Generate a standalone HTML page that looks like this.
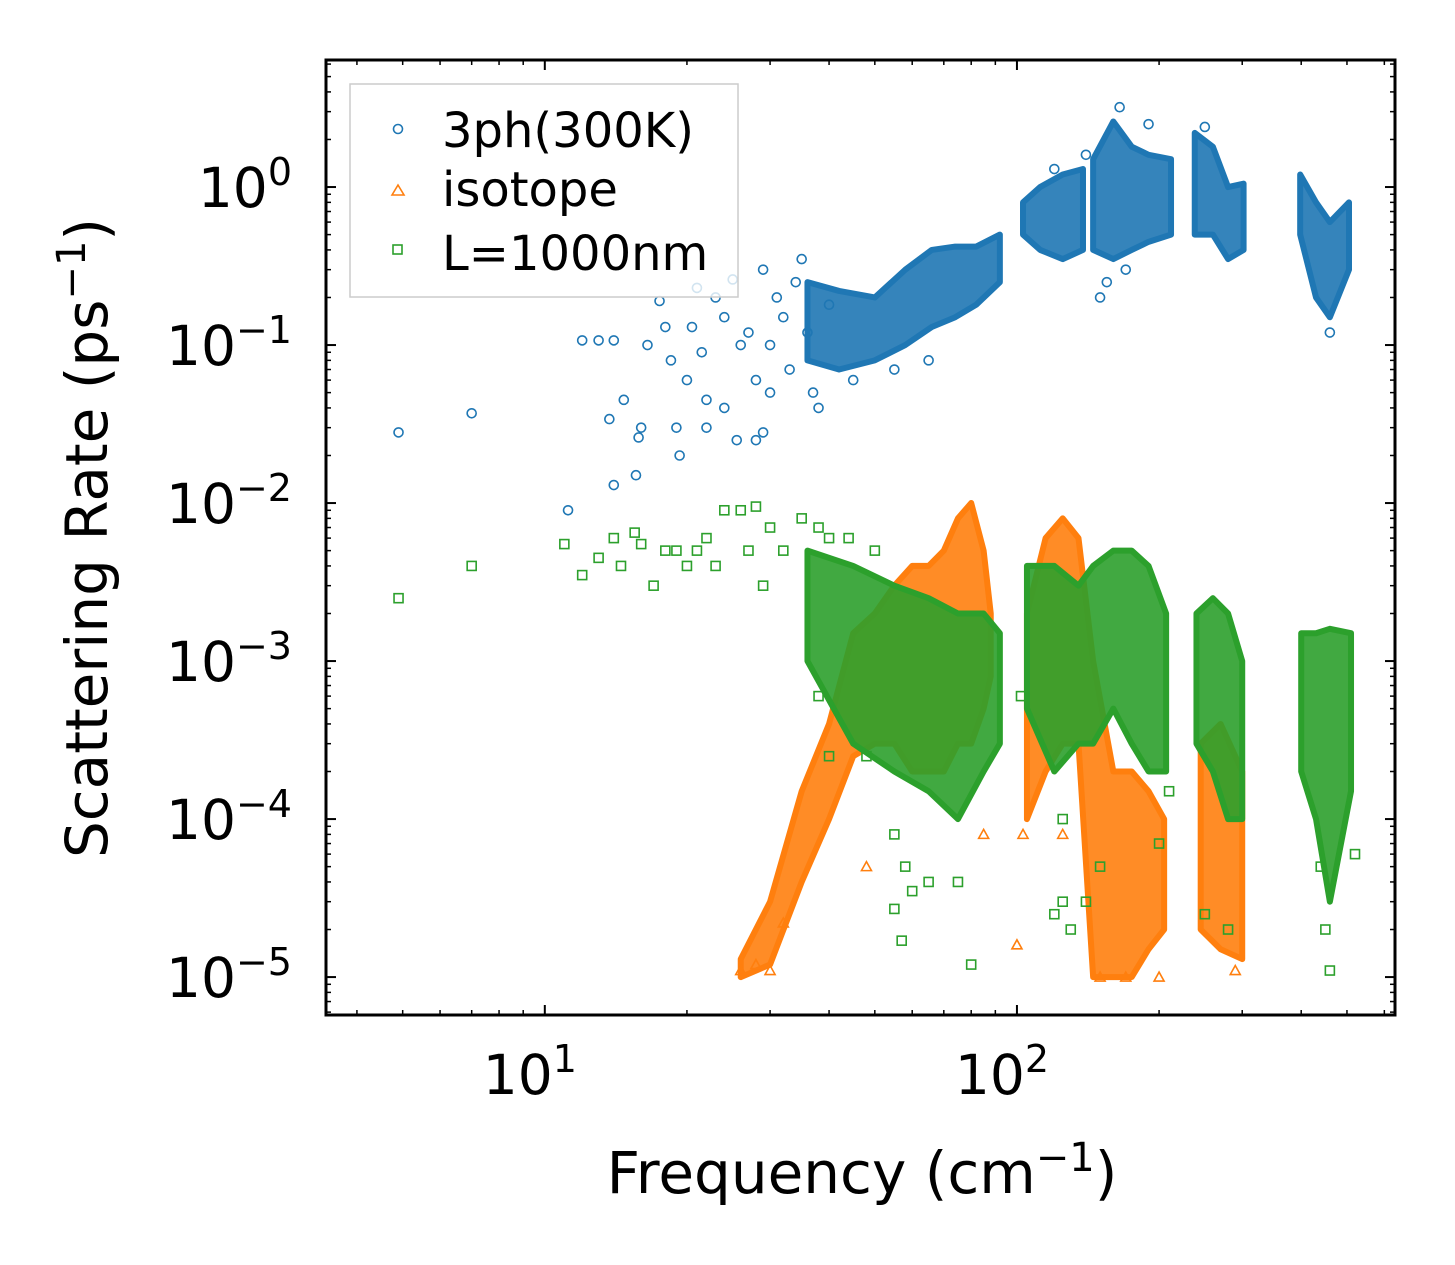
<!DOCTYPE html>
<html><head><meta charset="utf-8"><style>
html,body{margin:0;padding:0;background:#fff;}
svg{display:block;font-family:"DejaVu Sans","Liberation Sans",sans-serif;}
</style></head><body>
<svg id="chart" width="1455" height="1265" viewBox="0 0 1455 1265" xmlns="http://www.w3.org/2000/svg">
<rect width="1455" height="1265" fill="#fff"/>
<g id="marks"></g>
<g id="axes"></g>
<text x="862" y="1193" font-size="58" text-anchor="middle">Frequency (cm<tspan dy="-22" font-size="40">−1</tspan><tspan dy="22">)</tspan></text>
<text transform="translate(107,538) rotate(-90)" font-size="58" text-anchor="middle">Scattering Rate (ps<tspan dy="-22" font-size="40">−1</tspan><tspan dy="22">)</tspan></text>
<g>
<rect x="350" y="84" width="388" height="213" fill="#fff" fill-opacity="0.8" stroke="#ccc" stroke-width="1.5"/>
<g><circle cx="398" cy="129" r="4.5" fill="none" stroke="#1f77b4" stroke-width="1.6"/><text x="442" y="147" font-size="48">3ph(300K)</text></g>
<g><path d="M392,195 L398,185 L404,195 Z" fill="none" stroke="#ff7f0e" stroke-width="1.6"/><text x="442" y="206" font-size="48">isotope</text></g>
<g><rect x="393" y="245" width="9" height="9" fill="none" stroke="#2ca02c" stroke-width="1.6"/><text x="442" y="270" font-size="48">L=1000nm</text></g>
</g>
</svg>
<script>
// ---- data ----
const blueBands = [
 [[36,0.08,0.25],[42,0.07,0.22],[50,0.08,0.2],[58,0.1,0.3],[66,0.13,0.4],[74,0.15,0.42],[82,0.18,0.42],[92,0.25,0.5]],
 [[103,0.5,0.8],[112,0.4,1.0],[125,0.35,1.2],[138,0.4,1.3]],
 [[145,0.4,1.5],[160,0.35,2.6],[175,0.4,1.8],[190,0.45,1.6],[212,0.5,1.5]],
 [[238,0.5,2.2],[260,0.5,1.8],[280,0.35,1.0],[302,0.4,1.05]],
 [[398,0.5,1.2],[430,0.2,0.8],[460,0.15,0.6],[505,0.3,0.8]]
];
const bluePoints = [[4.9,0.028],[7,0.037],[11.2,0.009],[12,0.107],[13,0.107],[14,0.107],[13.7,0.034],[14,0.013],[14.7,0.045],[15.6,0.015],[15.8,0.026],[16,0.03],[16.5,0.1],[17.5,0.19],[18,0.13],[18.5,0.08],[19,0.03],[19.3,0.02],[20,0.06],[20.5,0.13],[21,0.23],[21.5,0.09],[22,0.045],[22,0.03],[23,0.2],[24,0.15],[24,0.04],[25,0.26],[25.5,0.025],[26,0.1],[27,0.12],[28,0.025],[28,0.06],[29,0.3],[29,0.028],[30,0.1],[30,0.05],[31,0.2],[32,0.15],[33,0.07],[34,0.25],[35,0.35],[36,0.12],[37,0.05],[38,0.04],[40,0.18],[45,0.06],[55,0.07],[65,0.08],[150,0.2],[155,0.25],[170,0.3],[460,0.12],[165,3.2],[190,2.5],[250,2.4],[140,1.6],[120,1.3]];
const orangeBands = [
 [[26,1e-5,1.3e-5],[30,1.2e-5,3e-5],[35,4e-5,1.5e-4],[40,1e-4,4e-4],[45,2.5e-4,1.5e-3],[50,3e-4,2e-3],[55,3e-4,3e-3],[60,2e-4,4e-3],[65,2e-4,4e-3],[70,2e-4,5e-3],[75,3e-4,8e-3],[80,3e-4,1e-2],[85,5e-4,5e-3],[88,8e-4,2e-3]],
 [[105,1e-4,2e-3],[115,2e-4,6e-3],[125,3e-4,8e-3],[135,3e-4,6e-3],[145,1e-5,1e-3],[160,1e-5,2e-4],[175,1e-5,2e-4],[190,1.5e-5,1.5e-4],[205,2e-5,1e-4]],
 [[245,2e-5,3e-4],[270,1.5e-5,4e-4],[300,1.3e-5,2e-4]]
];
const orangePoints = [[26,1.1e-5],[28,1.2e-5],[30,1.1e-5],[32,2.2e-5],[100,1.6e-5],[103,8e-5],[125,8e-5],[150,1e-5],[170,1e-5],[200,1e-5],[290,1.1e-5],[85,8e-5],[48,5e-5]];
const greenBands = [
 [[36,1e-3,5e-3],[45,3e-4,4e-3],[55,2e-4,3e-3],[65,1.5e-4,2.5e-3],[75,1e-4,2e-3],[85,2e-4,2e-3],[92,3e-4,1.5e-3]],
 [[105,5e-4,4e-3],[120,2e-4,4e-3],[135,3e-4,3e-3],[145,3e-4,4e-3],[160,5e-4,5e-3],[175,3e-4,5e-3],[190,2e-4,4e-3],[207,2e-4,2e-3]],
 [[240,3e-4,2e-3],[260,2e-4,2.5e-3],[280,1e-4,2e-3],[300,1e-4,1e-3]],
 [[400,2e-4,1.5e-3],[430,1e-4,1.5e-3],[460,3e-5,1.6e-3],[510,1.5e-4,1.5e-3]]
];
const greenPoints = [[4.9,2.5e-3],[7,4e-3],[11,5.5e-3],[12,3.5e-3],[13,4.5e-3],[14,6e-3],[14.5,4e-3],[15.5,6.5e-3],[16,5.5e-3],[17,3e-3],[18,5e-3],[19,5e-3],[20,4e-3],[21,5e-3],[22,6e-3],[23,4e-3],[24,9e-3],[26,9e-3],[27,5e-3],[28,9.5e-3],[29,3e-3],[30,7e-3],[32,5e-3],[35,8e-3],[38,7e-3],[40,6e-3],[44,6e-3],[50,5e-3],[38,6e-4],[40,2.5e-4],[48,2.5e-4],[55,8e-5],[58,5e-5],[60,3.5e-5],[55,2.7e-5],[57,1.7e-5],[65,4e-5],[75,4e-5],[80,1.2e-5],[120,2.5e-5],[125,3e-5],[130,2e-5],[140,3e-5],[250,2.5e-5],[280,2e-5],[450,2e-5],[460,1.1e-5],[440,5e-5],[520,6e-5],[200,7e-5],[210,1.5e-4],[102,6e-4],[125,1e-4],[150,5e-5]];
const xTickValues = [10,100];
const xTickLabels = ["1","2"];
const yTickValues = [1,0.1,0.01,0.001,0.0001,0.00001];
const yTickLabels = ["0","−1","−2","−3","−4","−5"];

// ---- axes ----
const X0=326,X1=1395,Y0=60,Y1=1015;
const xmin=Math.log10(3.44), xmax=Math.log10(632);
const ymin=-5.24, ymax=0.804;
const sx=v=>X0+(Math.log10(v)-xmin)/(xmax-xmin)*(X1-X0);
const sy=v=>Y1-(Math.log10(v)-ymin)/(ymax-ymin)*(Y1-Y0);
const NS="http://www.w3.org/2000/svg";
function mk(tag,attrs,parent){const e=document.createElementNS(NS,tag);for(const k in attrs)e.setAttribute(k,attrs[k]);parent.appendChild(e);return e;}
const marks=document.getElementById('marks'), axes=document.getElementById('axes');

function drawBands(bands,color,name){
 bands.forEach((b,i)=>{
  const top=b.map(p=>sx(p[0])+','+sy(p[2])), bot=b.slice().reverse().map(p=>sx(p[0])+','+sy(p[1]));
  const el=mk('polygon',{points:top.concat(bot).join(' '),fill:color,'fill-opacity':0.9,stroke:color,'stroke-width':6,'stroke-linejoin':'round'},marks);
  
  
 });
}
function drawPoints(pts,color,shape,name){
 pts.forEach(p=>{
  const x=sx(p[0]),y=sy(p[1]);let el;
  if(shape==='c') el=mk('circle',{cx:x,cy:y,r:4.5,fill:'none',stroke:color,'stroke-width':1.6},marks);
  else if(shape==='t') el=mk('path',{d:`M${x-5},${y+4} L${x},${y-5} L${x+5},${y+4} Z`,fill:'none',stroke:color,'stroke-width':1.6},marks);
  else el=mk('rect',{x:x-4.5,y:y-4.5,width:9,height:9,fill:'none',stroke:color,'stroke-width':1.6},marks);
  
  
 });
}
drawBands(blueBands,'#1f77b4','3ph');
drawPoints(bluePoints,'#1f77b4','c','3ph');
drawBands(orangeBands,'#ff7f0e','isotope');
drawPoints(orangePoints,'#ff7f0e','t','isotope');
drawBands(greenBands,'#2ca02c','boundary');
drawPoints(greenPoints,'#2ca02c','s','boundary');

// frame
const fr=mk('rect',{x:X0,y:Y0,width:X1-X0,height:Y1-Y0,fill:'none',stroke:'#000','stroke-width':3},axes);


// x ticks
for(let d=0;d<=3;d++){for(let m=1;m<=9;m++){const v=m*Math.pow(10,d);const x=sx(v);if(x<X0||x>X1)continue;
 const L=m===1?10:5;
 mk('line',{x1:x,y1:Y1,x2:x,y2:Y1-L,stroke:'#000','stroke-width':m===1?2:1.5},axes);
 mk('line',{x1:x,y1:Y0,x2:x,y2:Y0+L,stroke:'#000','stroke-width':m===1?2:1.5},axes);}}
xTickValues.forEach((v,i)=>{const t=mk('text',{x:sx(v)-15,y:1094,'font-size':55,'text-anchor':'middle'},axes);
 t.textContent='10';const s=mk('tspan',{dy:-22,'font-size':38},t);s.textContent=xTickLabels[i];
 
 });
// y ticks
for(let d=-6;d<=0;d++){for(let m=1;m<=9;m++){const v=m*Math.pow(10,d);const y=sy(v);if(y<Y0||y>Y1)continue;
 const L=m===1?10:5;
 mk('line',{x1:X0,y1:y,x2:X0+L,y2:y,stroke:'#000','stroke-width':m===1?2:1.5},axes);
 mk('line',{x1:X1,y1:y,x2:X1-L,y2:y,stroke:'#000','stroke-width':m===1?2:1.5},axes);}}
yTickValues.forEach((v,i)=>{const t=mk('text',{x:292,y:sy(v)+20,'font-size':55,'text-anchor':'end'},axes);
 t.textContent='10';const s=mk('tspan',{dy:-22,'font-size':38},t);s.textContent=yTickLabels[i];
 
 });
</script>
</body></html>
